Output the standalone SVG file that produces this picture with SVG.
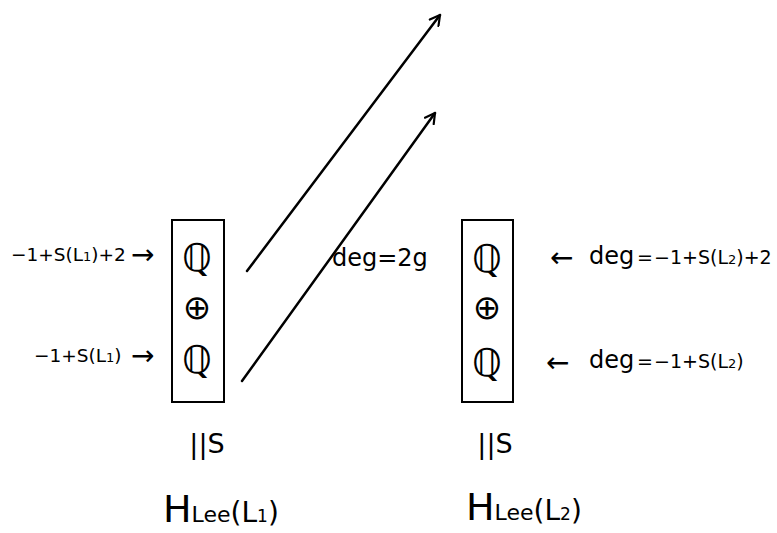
<svg xmlns="http://www.w3.org/2000/svg" width="777" height="533" viewBox="0 0 777 533">
  <defs>
    <marker id="open" viewBox="0 0 12 12" refX="10" refY="6" markerWidth="13" markerHeight="13" markerUnits="userSpaceOnUse" orient="auto">
      <path d="M1,1 L10,6 L1,11" fill="none" stroke="#000" stroke-width="2" stroke-linecap="round" stroke-linejoin="round"/>
    </marker>
  </defs>
  <style>
    text { font-family: "DejaVu Sans", "Liberation Sans", sans-serif; fill: #000; }
    .box { fill: #fff; stroke: #000; stroke-width: 2; }
    .sym { font-size: 38px; text-anchor: middle; }
    .plus { font-size: 34px; text-anchor: middle; }
    .lbl { font-size: 18.5px; }
    .arr { font-size: 28px; }
    .dg { font-size: 24px; }
    .rest { font-size: 19px; }
    .iso { font-size: 27px; text-anchor: middle; }
    .h { font-size: 38px; }
    .edge { stroke: #000; stroke-width: 2.5; fill: none; stroke-linecap: round; }
  </style>

  <g id="left-module">
    <rect class="box" x="172" y="220" width="52" height="182"/>
    <text class="sym" x="197" y="271">ℚ</text>
    <text class="plus" x="197" y="319">⊕</text>
    <text class="sym" x="197" y="373">ℚ</text>
  </g>

  <g id="right-module">
    <rect class="box" x="462" y="220" width="51" height="182"/>
    <text class="sym" x="487" y="272">ℚ</text>
    <text class="plus" x="487" y="319">⊕</text>
    <text class="sym" x="487" y="376">ℚ</text>
  </g>

  <g id="left-labels">
    <text class="lbl" x="11" y="261">−1+S(L<tspan font-size="13">1</tspan>)+2</text>
    <text class="arr" x="131" y="264">→</text>
    <text class="lbl" x="34" y="362">−1+S(L<tspan font-size="13">1</tspan>)</text>
    <text class="arr" x="131" y="365">→</text>
  </g>

  <g id="right-labels">
    <text class="arr" x="550" y="267">←</text>
    <text class="dg" x="589" y="264">deg</text>
    <text class="rest" x="637" y="264">=</text>
    <text class="rest" x="654" y="264">−1+S(L<tspan font-size="13">2</tspan>)+2</text>
    <text class="arr" x="546" y="372">←</text>
    <text class="dg" x="589" y="368">deg</text>
    <text class="rest" x="637" y="368">=</text>
    <text class="rest" x="654" y="368">−1+S(L<tspan font-size="13">2</tspan>)</text>
  </g>

  <g id="degree-label">
    <text class="dg" x="332" y="266" font-size="25px">deg=2g</text>
  </g>

  <g id="left-homology">
    <text class="iso" x="207" y="453">||S</text>
    <text class="h" x="163" y="522">H<tspan font-size="22">Lee</tspan><tspan font-size="28">(L</tspan><tspan font-size="17">1</tspan><tspan font-size="28">)</tspan></text>
  </g>

  <g id="right-homology">
    <text class="iso" x="495" y="453">||S</text>
    <text class="h" x="466" y="520">H<tspan font-size="22">Lee</tspan><tspan font-size="28">(L</tspan><tspan font-size="17">2</tspan><tspan font-size="28">)</tspan></text>
  </g>

  <g id="connectors">
    <line class="edge" x1="247" y1="271" x2="440" y2="15" marker-end="url(#open)"/>
    <line class="edge" x1="242" y1="381" x2="435" y2="113" marker-end="url(#open)"/>
  </g>
</svg>
